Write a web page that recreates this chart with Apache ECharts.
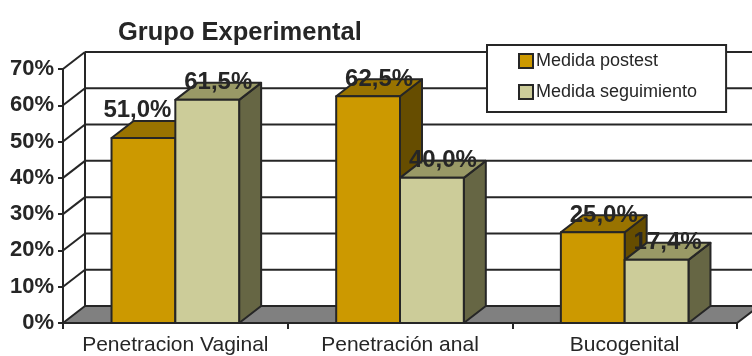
<!DOCTYPE html>
<html>
<head>
<meta charset="utf-8">
<script src="https://cdn.jsdelivr.net/npm/echarts@6/dist/echarts.min.js"></script>
<style>
  html, body { margin: 0; padding: 0; background: #ffffff; }
  #chart { width: 752px; height: 356px; }
</style>
</head>
<body>
<div id="chart"></div>
<script>
// Chart data
const categories = ['Penetracion Vaginal', 'Penetración anal', 'Bucogenital'];
const seriesNames = ['Medida postest', 'Medida seguimiento'];
const postest = [51.0, 62.5, 25.0];
const seguimiento = [61.5, 40.0, 17.4];
const yTicks = [0, 10, 20, 30, 40, 50, 60, 70];

// Styling for the pseudo-3D look
const INK = '#262626';
const FONT = '"Liberation Sans", Arial, sans-serif';
const DEPTH_X = 22, DEPTH_Y = -17;
const BAR_FRACTION = 0.284;
const faces = [
  { front: '#CC9900', top: '#997300', side: '#664D00' },
  { front: '#CCCC99', top: '#999966', side: '#666644' }
];
// small manual nudge for one crowded value label
const labelNudge = { '0-0': [-17, -11] };

function fmt(v) { return v.toFixed(1).replace('.', ',') + '%'; }

// back wall, side wall and floor
function renderFrame(params, api) {
  const cs = params.coordSys;
  const x0 = cs.x, x1 = cs.x + cs.width;
  const v = api.value(0);
  const y = api.coord([0, v])[1];
  const children = [];
  const line = { stroke: INK, lineWidth: 2 };
  if (v === 0) {
    children.push({
      type: 'polygon',
      shape: { points: [[x0, y], [x1, y], [x1 + DEPTH_X, y + DEPTH_Y], [x0 + DEPTH_X, y + DEPTH_Y]] },
      style: { fill: '#808080', stroke: INK, lineWidth: 2, lineJoin: 'round' }
    });
    const yTop = api.coord([0, yTicks[yTicks.length - 1]])[1];
    children.push({
      type: 'line',
      shape: { x1: x0 + DEPTH_X, y1: y + DEPTH_Y, x2: x0 + DEPTH_X, y2: yTop + DEPTH_Y },
      style: line
    });
  } else {
    children.push({
      type: 'line',
      shape: { x1: x0 + DEPTH_X, y1: y + DEPTH_Y, x2: x1 + DEPTH_X + 40, y2: y + DEPTH_Y },
      style: line
    });
    children.push({
      type: 'line',
      shape: { x1: x0, y1: y, x2: x0 + DEPTH_X, y2: y + DEPTH_Y },
      style: line
    });
  }
  return { type: 'group', children: children };
}

function makeBarRenderer(sIdx) {
  return function (params, api) {
    const i = api.value(0);
    const v = api.value(1);
    const center = api.coord([i, 0])[0];
    const band = api.size([1, 0])[0];
    const w = band * BAR_FRACTION;
    const x0 = sIdx === 0 ? center - w : center;
    const x1 = x0 + w;
    const yTop = api.coord([i, v])[1];
    const yBase = api.coord([i, 0])[1];
    const f = faces[sIdx];
    const edge = { stroke: INK, lineWidth: 2, lineJoin: 'round' };
    const nudge = labelNudge[sIdx + '-' + i] || [0, 0];
    return {
      type: 'group',
      children: [
        {
          type: 'polygon',
          shape: { points: [[x1, yTop], [x1 + DEPTH_X, yTop + DEPTH_Y], [x1 + DEPTH_X, yBase + DEPTH_Y], [x1, yBase]] },
          style: Object.assign({ fill: f.side }, edge)
        },
        {
          type: 'polygon',
          shape: { points: [[x0, yTop], [x1, yTop], [x1 + DEPTH_X, yTop + DEPTH_Y], [x0 + DEPTH_X, yTop + DEPTH_Y]] },
          style: Object.assign({ fill: f.top }, edge)
        },
        {
          type: 'rect',
          shape: { x: x0, y: yTop, width: w, height: yBase - yTop },
          style: Object.assign({ fill: f.front }, edge)
        },
        {
          type: 'text',
          z2: 10,
          style: {
            x: (x0 + x1) / 2 + DEPTH_X / 2 + nudge[0],
            y: yTop + DEPTH_Y + nudge[1],
            text: fmt(v),
            align: 'center',
            verticalAlign: 'middle',
            font: 'bold 24px ' + FONT,
            fill: INK
          }
        }
      ]
    };
  };
}

const chart = echarts.init(document.getElementById('chart'), null, { renderer: 'canvas' });

chart.setOption({
  animation: false,
  backgroundColor: '#ffffff',
  title: {
    text: 'Grupo Experimental',
    left: 113,
    top: 15,
    textStyle: { fontFamily: FONT, fontWeight: 'bold', fontSize: 25.5, color: INK }
  },
  legend: {
    orient: 'vertical',
    left: 487,
    top: 45,
    padding: [7, 29, 11, 31],
    itemGap: 13,
    itemWidth: 14,
    itemHeight: 14,
    icon: 'rect',
    backgroundColor: '#ffffff',
    borderColor: INK,
    borderWidth: 2,
    borderRadius: 0,
    textStyle: { fontFamily: FONT, fontSize: 18, color: INK, lineHeight: 18, padding: [0, 0, 0, -2] },
    data: seriesNames.map((n, k) => ({
      name: n,
      itemStyle: { color: faces[k].front, borderColor: INK, borderWidth: 2 }
    }))
  },
  grid: { left: 63, right: 15, top: 69, bottom: 32 },
  xAxis: {
    type: 'category',
    data: categories,
    axisLine: { show: true, lineStyle: { color: INK, width: 2 } },
    axisTick: { show: true, length: 6, lineStyle: { color: INK, width: 2 } },
    axisLabel: { interval: 0, hideOverlap: false, fontFamily: FONT, fontSize: 21, color: INK, margin: 12 },
    splitLine: { show: false }
  },
  yAxis: {
    type: 'value',
    min: 0,
    max: 70,
    interval: 10,
    axisLine: { show: true, lineStyle: { color: INK, width: 2 } },
    axisTick: { show: true, length: 5, lineStyle: { color: INK, width: 2 } },
    axisLabel: { fontFamily: FONT, fontSize: 22, fontWeight: 'bold', color: INK, margin: 9, formatter: '{value}%' },
    splitLine: { show: false }
  },
  series: [
    {
      type: 'custom',
      name: 'frame',
      z: 1,
      silent: true,
      renderItem: renderFrame,
      data: yTicks.map(t => [t]),
      encode: { x: -1, y: 0 }
    },
    {
      type: 'custom',
      name: seriesNames[0],
      z: 2,
      itemStyle: { color: faces[0].front },
      renderItem: makeBarRenderer(0),
      data: postest.map((v, i) => [i, v]),
      encode: { x: 0, y: 1 }
    },
    {
      type: 'custom',
      name: seriesNames[1],
      z: 3,
      itemStyle: { color: faces[1].front },
      renderItem: makeBarRenderer(1),
      data: seguimiento.map((v, i) => [i, v]),
      encode: { x: 0, y: 1 }
    }
  ]
});
</script>
</body>
</html>
